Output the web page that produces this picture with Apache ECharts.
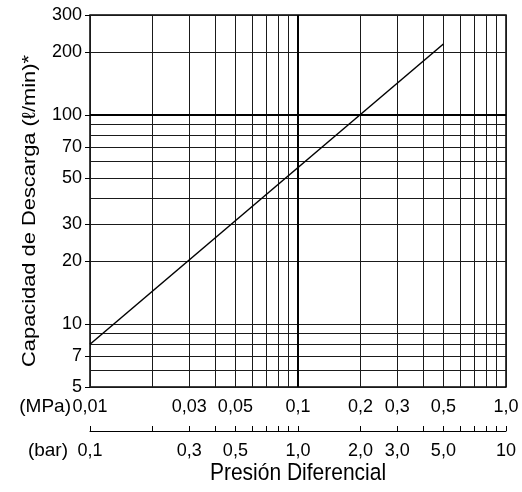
<!DOCTYPE html>
<html><head><meta charset="utf-8">
<script src="https://cdn.jsdelivr.net/npm/echarts@6/dist/echarts.min.js"></script>
<style>html,body{margin:0;padding:0;background:#fff}#c{width:522px;height:492px}</style>
</head><body><div id="c"></div>
<script>
// ---- data ----
const pressureMPa = [0.01, 0.5];
const flowLpm = [8, 218];

const mpaGrid = [0.01,0.02,0.03,0.04,0.05,0.06,0.07,0.08,0.09,0.1,0.2,0.3,0.4,0.5,0.6,0.7,0.8,0.9,1.0];
const mpaTicks = [0.01,0.03,0.05,0.1,0.2,0.3,0.5,1.0];
const mpaTickLabels = ['0,01','0,03','0,05','0,1','0,2','0,3','0,5','1,0'];

const barTicks = [0.1,0.2,0.3,0.4,0.5,0.6,0.7,0.8,0.9,1,2,3,4,5,6,7,8,9,10];
const barLabelValues = [0.1,0.3,0.5,1,2,3,5,10];
const barTickLabels = ['0,1','0,3','0,5','1,0','2,0','3,0','5,0','10'];

const flowGrid = [5,6,7,8,9,10,20,30,40,50,60,70,80,90,100,200,300];
const flowTicks = [5,7,10,20,30,50,70,100,200,300];
const flowTickLabels = ['5','7','10','20','30','50','70','100','200','300'];

const yTitle = 'Capacidad de Descarga (ℓ/min)*';
const xTitle = 'Presión Diferencial';

// ---- chart ----
const FONT = '"Liberation Sans", Arial, sans-serif';
function labelFor(values, labels){
  return function(v){
    for (let i=0;i<values.length;i++){
      if (Math.abs(Math.log10(v)-Math.log10(values[i]))<1e-4) return labels[i];
    }
    return '';
  };
}
const chart = echarts.init(document.getElementById('c'), null, {renderer:'canvas'});
const labelStyle = {fontSize:18, fontFamily:FONT, color:'#000'};
const option = {
  animation:false,
  backgroundColor:'#fff',
  grid:{left:90,right:16,top:15,bottom:105, show:true, borderColor:'#000', borderWidth:1.5, containLabel:false, outerBoundsMode:'none'},
  xAxis:[
    {type:'log', logBase:10, min:0.01, max:1, position:'bottom',
     axisLine:{show:false}, axisTick:{show:false, customValues:mpaGrid}, axisLabel:{show:false},
     splitLine:{show:true, lineStyle:{color:'#1a1a1a', width:1}}},
    {type:'log', logBase:10, min:0.01, max:1, position:'bottom',
     axisLine:{show:false}, axisTick:{show:false, customValues:mpaTicks}, splitLine:{show:false},
     axisLabel:Object.assign({customValues:mpaTicks, formatter:labelFor(mpaTicks, mpaTickLabels), margin:11, showMinLabel:true, showMaxLabel:true}, labelStyle)},
    {type:'log', logBase:10, min:0.1, max:10, position:'bottom', offset:44,
     axisLine:{show:true, lineStyle:{color:'#000', width:1}},
     axisTick:{show:true, inside:true, length:5, customValues:barTicks, lineStyle:{color:'#000', width:1}},
     splitLine:{show:false},
     axisLabel:Object.assign({customValues:barLabelValues, formatter:labelFor(barLabelValues, barTickLabels), margin:11, showMinLabel:true, showMaxLabel:true}, labelStyle)}
  ],
  yAxis:[
    {type:'log', logBase:10, min:5, max:300, position:'left',
     axisLine:{show:false}, axisTick:{show:false, customValues:flowGrid}, axisLabel:{show:false},
     splitLine:{show:true, lineStyle:{color:'#1a1a1a', width:1}}},
    {type:'log', logBase:10, min:5, max:300, position:'left',
     axisLine:{show:false}, splitLine:{show:false},
     axisTick:{show:true, length:5, customValues:flowTicks, lineStyle:{color:'#000', width:1}},
     axisLabel:Object.assign({customValues:flowTicks, formatter:labelFor(flowTicks, flowTickLabels), margin:8, padding:[5,0,0,0], showMinLabel:true, showMaxLabel:true}, labelStyle)}
  ],
  series:[{
    type:'line', xAxisIndex:0, yAxisIndex:0,
    data: pressureMPa.map((x,i)=>[x, flowLpm[i]]),
    symbol:'none', lineStyle:{color:'#000', width:1.5},
    markLine:{silent:true, symbol:'none', label:{show:false},
      lineStyle:{color:'#000', width:2, type:'solid'},
      data:[{yAxis:100},{xAxis:0.1}]}
  }],
  graphic:[
    {type:'text', x:71, y:407, style:{text:'(MPa)', fontSize:19, fontFamily:FONT, fill:'#000', align:'right', verticalAlign:'middle'}},
    {type:'text', x:68, y:451, style:{text:'(bar)', fontSize:19, fontFamily:FONT, fill:'#000', align:'right', verticalAlign:'middle'}},
    {type:'text', x:298, y:473, scaleY:1.15, style:{text:xTitle, fontSize:21, fontFamily:FONT, fill:'#000', align:'center', verticalAlign:'middle'}},
    {type:'text', x:30, y:211, rotation:Math.PI/2, scaleX:1.15, style:{text:yTitle, fontSize:19, fontFamily:FONT, fill:'#000', align:'center', verticalAlign:'middle'}}
  ]
};
chart.setOption(option);
</script>
</body></html>
